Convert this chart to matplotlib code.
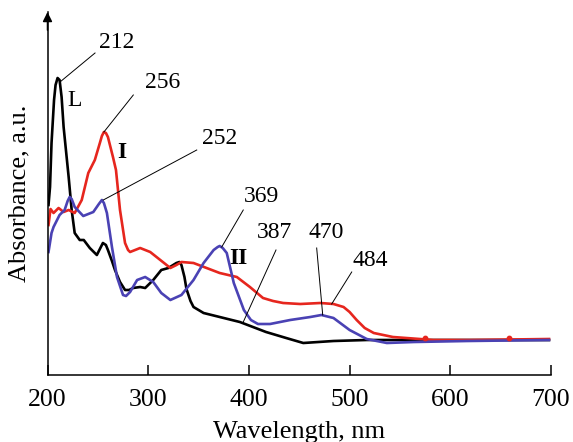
import numpy as np
import matplotlib.pyplot as plt

# spectra (absorbance in arbitrary units)
wl_L = [201, 202.5, 204, 206.5, 208, 210, 212, 214, 216, 221, 224, 227, 232, 236, 242, 249,
        252, 255, 258, 260, 264, 267, 272, 277, 281, 285, 292, 297, 305, 313, 320, 328, 331,
        333, 336, 338, 342, 345, 355, 371, 391, 417, 437, 454, 484, 517, 560, 620, 698]
abs_L = [1.70, 1.88, 2.32, 2.75, 2.90, 2.97, 2.95, 2.78, 2.48, 1.98, 1.65, 1.42, 1.35, 1.35, 1.27, 1.20,
         1.26, 1.32, 1.30, 1.25, 1.14, 1.05, 0.93, 0.85, 0.85, 0.87, 0.88, 0.87, 0.95, 1.05, 1.07, 1.12, 1.13,
         1.10, 0.98, 0.86, 0.74, 0.68, 0.62, 0.58, 0.53, 0.43, 0.37, 0.32, 0.34, 0.35, 0.35, 0.35, 0.35]

wl_I = [201, 203, 206, 211, 216, 221, 227, 234, 240.5, 247, 252, 254, 256, 258, 260, 265, 268,
        272, 277, 280, 282, 287, 292, 302, 312, 322, 328, 333, 345, 358, 371, 388, 401, 414,
        424, 434, 451, 471, 484, 494, 500, 507, 515, 524, 543, 583, 620, 698]
abs_I = [1.50, 1.66, 1.62, 1.67, 1.63, 1.65, 1.62, 1.75, 2.02, 2.15, 2.32, 2.39, 2.43, 2.42, 2.38, 2.18, 2.05,
         1.65, 1.32, 1.25, 1.23, 1.25, 1.27, 1.23, 1.15, 1.07, 1.10, 1.13, 1.12, 1.07, 1.02, 0.98, 0.88, 0.77,
         0.74, 0.72, 0.71, 0.72, 0.71, 0.68, 0.63, 0.55, 0.47, 0.42, 0.38, 0.35, 0.35, 0.36]
dots_I_wl = [575, 658]
dots_I_abs = [0.37, 0.37]

wl_II = [201, 204, 206, 212, 217, 220, 222, 224, 227, 235.5, 245.5, 251, 254, 256, 259, 264, 269,
         275, 278, 282, 289, 297, 305, 313, 322, 333, 345, 355, 365, 369, 371, 374, 378, 385, 395,
         402, 409, 421, 441, 461, 472, 484, 500, 517, 537, 564, 617, 698]
abs_II = [1.23, 1.42, 1.48, 1.60, 1.65, 1.74, 1.78, 1.76, 1.68, 1.59, 1.63, 1.71, 1.75, 1.72, 1.62, 1.28, 0.98,
          0.80, 0.79, 0.83, 0.95, 0.98, 0.93, 0.82, 0.75, 0.80, 0.95, 1.12, 1.25, 1.28, 1.29, 1.27, 1.22, 0.92, 0.65,
          0.55, 0.51, 0.51, 0.55, 0.58, 0.60, 0.57, 0.45, 0.36, 0.32, 0.33, 0.34, 0.35]

# peak labels: text, text position, point on the curve
peak_text = ['212', '256', '252', '369', '387', '470', '484']
peak_text_xy = [(269, 3.33), (314, 2.93), (371, 2.37), (413, 1.78), (425, 1.42), (477, 1.43), (521, 1.15)]
peak_line_from = [(212.4, 2.93), (256, 2.43), (255.4, 1.75), (373, 1.28), (394.4, 0.53), (473.3, 0.60), (482.2, 0.71)]
peak_line_to = [(247.2, 3.22), (285.2, 2.80), (348.2, 2.25), (394.4, 1.65), (426.9, 1.25), (467.3, 1.27), (502.1, 1.03)]

curve_names = ['L', 'I', 'II']
curve_name_xy = [(227, 2.75), (274, 2.22), (390, 1.17)]

red = '#e6261e'
blue = '#4a42b4'

plt.rcParams['font.family'] = 'Liberation Serif'
fig = plt.figure(figsize=(5.73, 4.42), dpi=100)
ax = fig.add_axes([47.5 / 573, 67 / 442, (551 - 47.5) / 573, (375 - 12) / 442])

ax.plot(wl_L, abs_L, color='black', lw=1.9, solid_joinstyle='round')
ax.plot(wl_I, abs_I, color=red, lw=1.9, solid_joinstyle='round')
ax.scatter(dots_I_wl, dots_I_abs, color=red, s=10, zorder=3)
ax.plot(wl_II, abs_II, color=blue, lw=1.9, solid_joinstyle='round')

for t, xy, p0, p1 in zip(peak_text, peak_text_xy, peak_line_from, peak_line_to):
    ax.text(xy[0], xy[1], t, fontsize=17, ha='center', va='center')
    ax.plot([p0[0], p1[0]], [p0[1], p1[1]], color='black', lw=0.7)

for name, xy in zip(curve_names, curve_name_xy):
    ax.text(xy[0], xy[1], name, fontsize=17, ha='center', va='center',
            fontweight='normal' if name == 'L' else 'bold')

ax.set_xlim(200, 700)
ax.set_ylim(0, 3.63)
ax.spines['top'].set_visible(False)
ax.spines['right'].set_visible(False)
ax.spines['left'].set_linewidth(1.1)
ax.spines['bottom'].set_linewidth(1.1)
ax.set_yticks([])
ax.set_xticks([200, 300, 400, 500, 600, 700])
ax.tick_params(axis='x', direction='in', length=7, width=1.1, labelsize=18.5, pad=10)
ax.annotate('', xy=(0, 1.0), xytext=(0, 0.95), xycoords='axes fraction',
            arrowprops=dict(arrowstyle='-|>', color='black', lw=1.1,
                            mutation_scale=14, shrinkA=0, shrinkB=0))
ax.set_xlabel('Wavelength, nm', fontsize=19, labelpad=7)
ax.set_ylabel('Absorbance, a.u.', fontsize=19, labelpad=12)

fig.savefig('out.png', dpi=100)
